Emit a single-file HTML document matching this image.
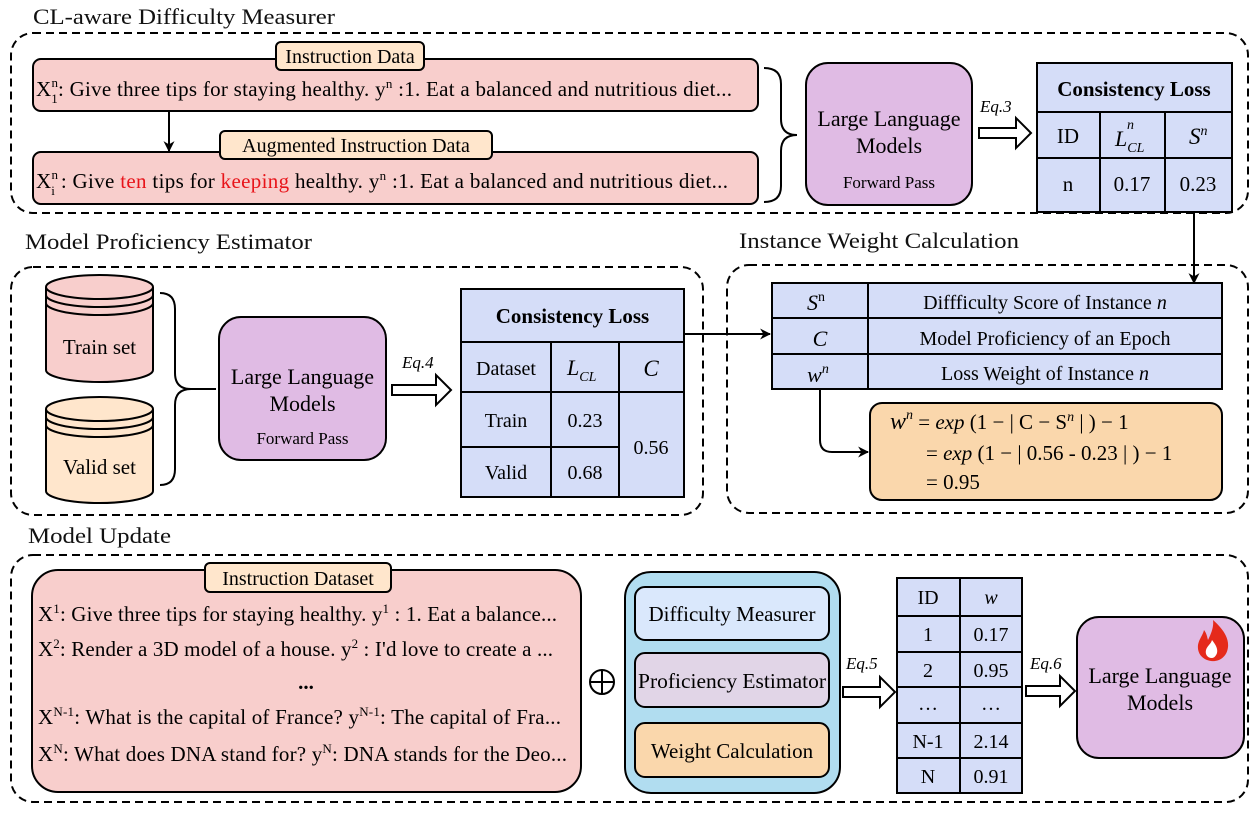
<!DOCTYPE html>
<html><head><meta charset="utf-8"><style>
html,body{margin:0;padding:0;background:#fff;}
svg, svg text, svg tspan{font-family:"Liberation Serif","DejaVu Serif","Times New Roman",serif;}
</style></head><body>
<svg width="1258" height="808" viewBox="0 0 1258 808" xmlns="http://www.w3.org/2000/svg" font-family="Liberation Serif, serif">
<defs>
<marker id="ah" viewBox="0 0 10 10" refX="9" refY="5" markerWidth="11" markerHeight="11" markerUnits="userSpaceOnUse" orient="auto"><path d="M0,0 L10,5 L0,10 L3,5 z" fill="#000"/></marker>
</defs>
<g fill="none" stroke="#000" stroke-width="2" stroke-dasharray="8 5">
<rect x="11" y="33" width="1237" height="180" rx="22"/>
<rect x="11" y="267" width="692" height="248" rx="22"/>
<rect x="727" y="265" width="521" height="248" rx="22"/>
<rect x="11" y="555" width="1237" height="247" rx="22"/>
</g>
<g font-size="22" fill="#111">
<text x="33" y="24" textLength="302" lengthAdjust="spacingAndGlyphs">CL-aware Difficulty Measurer</text>
<text x="25" y="249" textLength="287" lengthAdjust="spacingAndGlyphs">Model Proficiency Estimator</text>
<text x="739" y="248" textLength="280" lengthAdjust="spacingAndGlyphs">Instance Weight Calculation</text>
<text x="28" y="543" textLength="143" lengthAdjust="spacingAndGlyphs">Model Update</text>
</g>

<!-- Section 1 -->
<rect x="33" y="59" width="725" height="52" rx="8" fill="#f8cecc" stroke="#000" stroke-width="2"/>
<rect x="33" y="152" width="725" height="52" rx="8" fill="#f8cecc" stroke="#000" stroke-width="2"/>
<line x1="169" y1="111" x2="169" y2="151" stroke="#000" stroke-width="2" marker-end="url(#ah)"/>
<rect x="276" y="42" width="148" height="28" rx="5" fill="#ffe6cc" stroke="#000" stroke-width="2"/>
<text x="350" y="63" font-size="20" text-anchor="middle">Instruction Data</text>
<rect x="220" y="131" width="272" height="28" rx="5" fill="#ffe6cc" stroke="#000" stroke-width="2"/>
<text x="356" y="152" font-size="20" text-anchor="middle">Augmented Instruction Data</text>
<text x="36" y="96" font-size="21" textLength="696" lengthAdjust="spacing">X<tspan font-size="13" dy="-9">n</tspan><tspan font-size="13" dx="-7" dy="16">1</tspan><tspan dy="-7">: Give three tips for staying healthy.  y</tspan><tspan font-size="13" dy="-8">n</tspan><tspan dy="8"> :1. Eat a balanced and nutritious diet...</tspan></text>
<text x="36" y="188" font-size="21" textLength="692" lengthAdjust="spacing">X<tspan font-size="13" dy="-9">n</tspan><tspan font-size="13" dx="-7" dy="16">i</tspan><tspan dy="-7"> : Give </tspan><tspan fill="#e8141a">ten</tspan> tips for <tspan fill="#e8141a">keeping</tspan> healthy.   y<tspan font-size="13" dy="-8">n</tspan><tspan dy="8"> :1. Eat a balanced and nutritious diet...</tspan></text>
<path d="M764,68 Q781,68 781,84 L781,119 Q781,135 797,135 Q781,135 781,151 L781,186 Q781,202 764,202" fill="none" stroke="#000" stroke-width="2"/>
<rect x="806" y="63" width="166" height="142" rx="22" fill="#e0bbe4" stroke="#000" stroke-width="2"/>
<text x="889" y="126" font-size="22" text-anchor="middle">Large Language</text>
<text x="889" y="153" font-size="22" text-anchor="middle">Models</text>
<text x="889" y="188" font-size="17" text-anchor="middle">Forward Pass</text>
<text x="980" y="112" font-size="17" font-style="italic">Eq.3</text>
<polygon points="979,128 1016,128 1016,118 1031,133 1016,148 1016,138 979,138" fill="#fff" stroke="#000" stroke-width="2"/>
<g stroke="#000" stroke-width="2" fill="#d5ddf8">
<rect x="1037" y="63" width="195" height="149"/>
<line x1="1037" y1="112" x2="1232" y2="112"/>
<line x1="1037" y1="158" x2="1232" y2="158"/>
<line x1="1100" y1="112" x2="1100" y2="212"/>
<line x1="1165" y1="112" x2="1165" y2="212"/>
</g>
<text x="1134" y="96" font-size="21" font-weight="bold" text-anchor="middle">Consistency Loss</text>
<text x="1068" y="143" font-size="21" text-anchor="middle">ID</text>
<text x="1115" y="146" font-size="22" font-style="italic">L<tspan font-size="14" dy="6">CL</tspan></text>
<text x="1127" y="129" font-size="14" font-style="italic">n</text>
<text x="1189" y="144" font-size="23" font-style="italic">S<tspan font-size="14" dy="-9">n</tspan></text>
<text x="1068" y="191" font-size="21" text-anchor="middle">n</text>
<text x="1132" y="191" font-size="21" text-anchor="middle">0.17</text>
<text x="1198" y="191" font-size="21" text-anchor="middle">0.23</text>
<line x1="1194" y1="212" x2="1194" y2="283" stroke="#000" stroke-width="2" marker-end="url(#ah)"/>

<!-- Section 2 -->
<g stroke="#000" stroke-width="2">
<path d="M46,287 L46,370 A53.5,12 0 0 0 153,370 L153,287" fill="#f8cecc"/>
<ellipse cx="99.5" cy="287" rx="53.5" ry="12" fill="#f8cecc"/>
<path d="M46,295 A53.5,12 0 0 0 153,295 M46,303 A53.5,12 0 0 0 153,303" fill="none"/>
<path d="M46,409 L46,491 A53.5,12 0 0 0 153,491 L153,409" fill="#ffe6cc"/>
<ellipse cx="99.5" cy="409" rx="53.5" ry="12" fill="#ffe6cc"/>
<path d="M46,417 A53.5,12 0 0 0 153,417 M46,425 A53.5,12 0 0 0 153,425" fill="none"/>
</g>
<text x="99.5" y="354" font-size="21" text-anchor="middle">Train set</text>
<text x="99.5" y="474" font-size="21" text-anchor="middle">Valid set</text>
<path d="M160,293 Q175,293 175,309 L175,373 Q175,389 191,389 Q175,389 175,405 L175,469 Q175,485 160,485 M191,389 L216,389" fill="none" stroke="#000" stroke-width="2"/>
<rect x="219" y="317" width="167" height="143" rx="22" fill="#e0bbe4" stroke="#000" stroke-width="2"/>
<text x="302.5" y="384" font-size="22" text-anchor="middle">Large Language</text>
<text x="302.5" y="411" font-size="22" text-anchor="middle">Models</text>
<text x="302.5" y="444" font-size="17" text-anchor="middle">Forward Pass</text>
<text x="402" y="368" font-size="17" font-style="italic">Eq.4</text>
<polygon points="392,385 436,385 436,375 451,390 436,405 436,395 392,395" fill="#fff" stroke="#000" stroke-width="2"/>
<g stroke="#000" stroke-width="2" fill="#d5ddf8">
<rect x="461" y="289" width="223" height="208"/>
<line x1="461" y1="342" x2="684" y2="342"/>
<line x1="461" y1="392" x2="684" y2="392"/>
<line x1="461" y1="447" x2="619" y2="447"/>
<line x1="551" y1="342" x2="551" y2="497"/>
<line x1="619" y1="342" x2="619" y2="497"/>
</g>
<text x="572.5" y="323" font-size="21" font-weight="bold" text-anchor="middle">Consistency Loss</text>
<text x="506" y="375" font-size="20" text-anchor="middle">Dataset</text>
<text x="567" y="375" font-size="22" font-style="italic">L<tspan font-size="14" dy="6">CL</tspan></text>
<text x="651" y="376" font-size="23" font-style="italic" text-anchor="middle">C</text>
<text x="506" y="427" font-size="20" text-anchor="middle">Train</text>
<text x="585" y="427" font-size="20" text-anchor="middle">0.23</text>
<text x="506" y="479" font-size="20" text-anchor="middle">Valid</text>
<text x="585" y="479" font-size="20" text-anchor="middle">0.68</text>
<text x="651" y="454" font-size="20" text-anchor="middle">0.56</text>
<line x1="684" y1="334" x2="770" y2="334" stroke="#000" stroke-width="2" marker-end="url(#ah)"/>

<!-- Section 3 -->
<g stroke="#000" stroke-width="2" fill="#d5ddf8">
<rect x="772" y="283" width="450" height="106"/>
<line x1="772" y1="318" x2="1222" y2="318"/>
<line x1="772" y1="354" x2="1222" y2="354"/>
<line x1="868" y1="283" x2="868" y2="389"/>
</g>
<text x="816" y="310" font-size="22" font-style="italic" text-anchor="middle">S<tspan font-size="14" dy="-9" font-style="normal">n</tspan></text>
<text x="820" y="346" font-size="22" font-style="italic" text-anchor="middle">C</text>
<text x="818" y="382" font-size="22" font-style="italic" text-anchor="middle">w<tspan font-size="14" dy="-9">n</tspan></text>
<text x="1045" y="309" font-size="20" text-anchor="middle">Diffficulty Score of Instance <tspan font-style="italic">n</tspan></text>
<text x="1045" y="345" font-size="20" text-anchor="middle">Model  Proficiency of an Epoch</text>
<text x="1045" y="380" font-size="20" text-anchor="middle">Loss Weight of Instance <tspan font-style="italic">n</tspan></text>
<rect x="870" y="403" width="352" height="97" rx="12" fill="#fad7ac" stroke="#000" stroke-width="2"/>
<path d="M820,389 L820,440 Q820,452 832,452 L868,452" fill="none" stroke="#000" stroke-width="2" marker-end="url(#ah)"/>
<text x="890" y="429" font-size="21"><tspan font-style="italic" font-size="24">w</tspan><tspan font-style="italic" font-size="14" dy="-10">n</tspan><tspan dy="10"> = </tspan><tspan font-style="italic">exp</tspan> (1 − | C − S<tspan font-style="italic" font-size="14" dy="-8">n</tspan><tspan dy="8"> | ) − 1</tspan></text>
<text x="926" y="460" font-size="21">= <tspan font-style="italic">exp</tspan> (1 − | 0.56 - 0.23 | ) − 1</text>
<text x="926" y="489" font-size="21">= 0.95</text>

<!-- Section 4 -->
<rect x="32" y="570" width="549" height="222" rx="26" fill="#f8cecc" stroke="#000" stroke-width="2"/>
<rect x="205" y="563" width="186" height="29" rx="5" fill="#ffe6cc" stroke="#000" stroke-width="2"/>
<text x="298" y="585" font-size="20" text-anchor="middle">Instruction Dataset</text>
<g font-size="21">
<text x="38" y="621" textLength="519" lengthAdjust="spacing">X<tspan font-size="13" dy="-8">1</tspan><tspan dy="8">: Give three tips for staying healthy. y</tspan><tspan font-size="13" dy="-8">1</tspan><tspan dy="8"> : 1. Eat a balance...</tspan></text>
<text x="38" y="656" textLength="515" lengthAdjust="spacing">X<tspan font-size="13" dy="-8">2</tspan><tspan dy="8">: Render a 3D model of a house. y</tspan><tspan font-size="13" dy="-8">2</tspan><tspan dy="8"> : I'd love to create a ...</tspan></text>
<text x="306" y="689" text-anchor="middle" font-weight="bold">...</text>
<text x="38" y="724" textLength="523" lengthAdjust="spacing">X<tspan font-size="13" dy="-8">N-1</tspan><tspan dy="8">: What is the capital of France? y</tspan><tspan font-size="13" dy="-8">N-1</tspan><tspan dy="8">: The capital of Fra...</tspan></text>
<text x="38" y="761" textLength="529" lengthAdjust="spacing">X<tspan font-size="13" dy="-8">N</tspan><tspan dy="8">: What does DNA stand for? y</tspan><tspan font-size="13" dy="-8">N</tspan><tspan dy="8">: DNA stands for the Deo...</tspan></text>
</g>
<g stroke="#000" stroke-width="2" fill="none">
<circle cx="602" cy="682" r="12"/>
<line x1="590" y1="682" x2="614" y2="682"/>
<line x1="602" y1="670" x2="602" y2="694"/>
</g>
<rect x="625" y="572" width="215" height="221" rx="26" fill="#b1ddf0" stroke="#000" stroke-width="2"/>
<rect x="635" y="587" width="194" height="53" rx="10" fill="#dae8fc" stroke="#000" stroke-width="2"/>
<rect x="635" y="653" width="194" height="54" rx="10" fill="#e1d5e7" stroke="#000" stroke-width="2"/>
<rect x="635" y="723" width="194" height="54" rx="10" fill="#fad7ac" stroke="#000" stroke-width="2"/>
<text x="732" y="621" font-size="21" text-anchor="middle">Difficulty Measurer</text>
<text x="732" y="688" font-size="21" text-anchor="middle" textLength="188" lengthAdjust="spacingAndGlyphs">Proficiency Estimator</text>
<text x="732" y="758" font-size="21" text-anchor="middle">Weight Calculation</text>
<text x="846" y="669" font-size="17" font-style="italic">Eq.5</text>
<polygon points="843,687 880,687 880,677 895,692 880,707 880,697 843,697" fill="#fff" stroke="#000" stroke-width="2"/>
<g stroke="#000" stroke-width="2" fill="#d5ddf8">
<rect x="897" y="578" width="125" height="215"/>
<line x1="897" y1="616" x2="1022" y2="616"/>
<line x1="897" y1="652" x2="1022" y2="652"/>
<line x1="897" y1="687" x2="1022" y2="687"/>
<line x1="897" y1="723" x2="1022" y2="723"/>
<line x1="897" y1="758" x2="1022" y2="758"/>
<line x1="960" y1="578" x2="960" y2="793"/>
</g>
<g font-size="20" text-anchor="middle">
<text x="928" y="604">ID</text><text x="991" y="604" font-style="italic">w</text>
<text x="928" y="641">1</text><text x="991" y="641">0.17</text>
<text x="928" y="677">2</text><text x="991" y="677">0.95</text>
<text x="928" y="710">…</text><text x="991" y="710">…</text>
<text x="928" y="748">N-1</text><text x="991" y="748">2.14</text>
<text x="928" y="783">N</text><text x="991" y="783">0.91</text>
</g>
<text x="1030" y="669" font-size="17" font-style="italic">Eq.6</text>
<polygon points="1026,686 1060,686 1060,676 1075,691 1060,706 1060,696 1026,696" fill="#fff" stroke="#000" stroke-width="2"/>
<rect x="1077" y="617" width="167" height="141" rx="22" fill="#e0bbe4" stroke="#000" stroke-width="2"/>
<text x="1160" y="683" font-size="22" text-anchor="middle">Large Language</text>
<text x="1160" y="710" font-size="22" text-anchor="middle">Models</text>
<path d="M1213,620 C1222,628 1229,637 1228,647 C1227,657 1219,662 1211,661 C1203,660 1197,654 1198,645 C1199,639 1203,635 1204,630 C1207,634 1207,637 1208,640 C1211,634 1214,627 1213,620 Z" fill="#e52a1b"/>
<path d="M1212,658 C1207,658 1205,654 1206,650 C1207,646 1211,644 1212,640 C1216,645 1218,649 1217,653 C1216,656 1214,658 1212,658 Z" fill="#fff"/>
</svg>
</body></html>
